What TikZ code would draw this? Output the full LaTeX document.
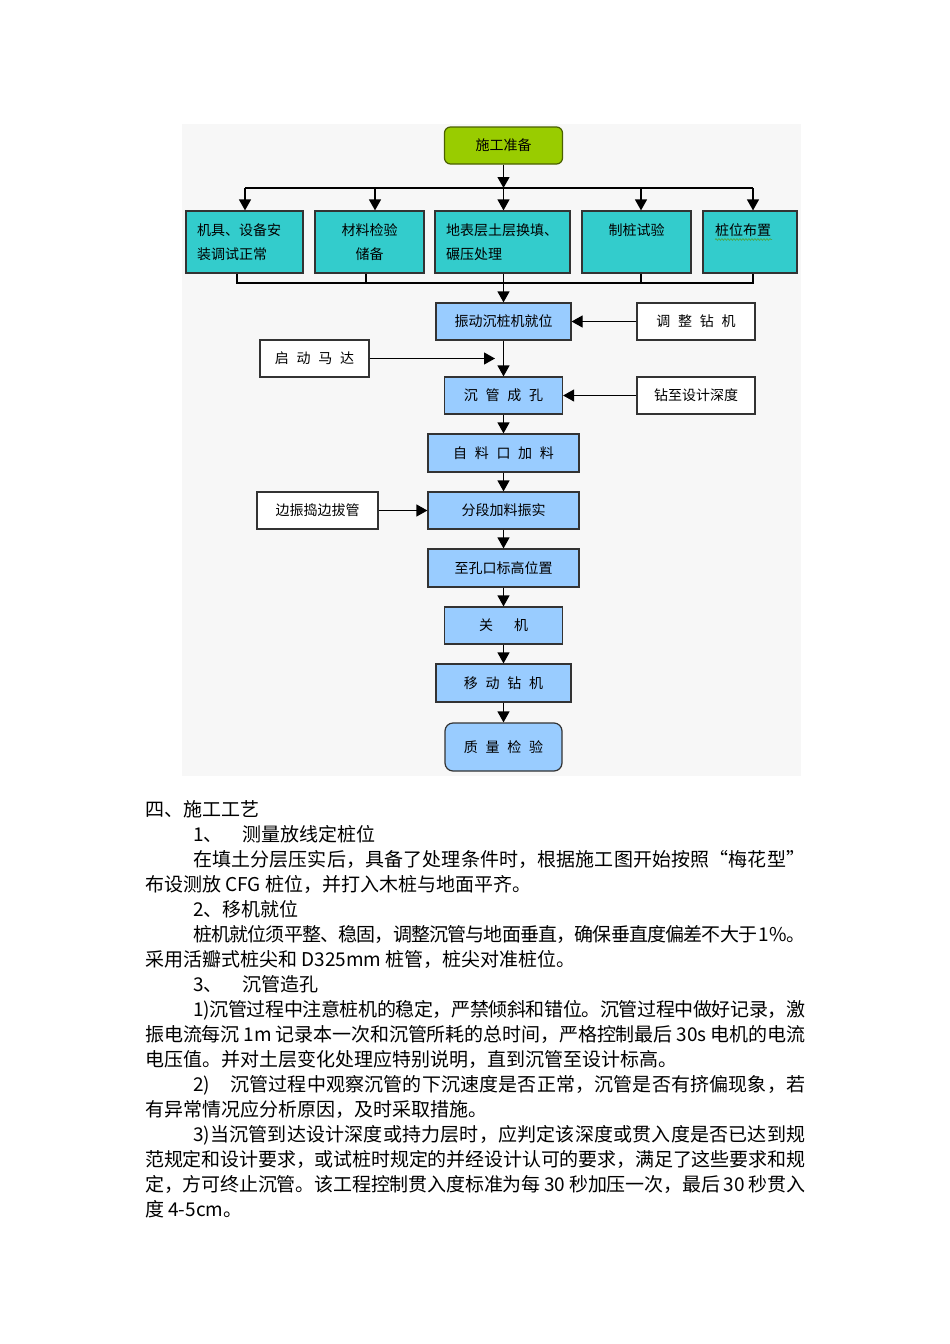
\documentclass[tikz,border=0pt]{standalone}
\usepackage{fontspec}
\setmainfont{Noto Sans CJK SC}
\usetikzlibrary{arrows.meta,decorations.pathmorphing}
\definecolor{bgc}{HTML}{F7F7F7}
\definecolor{tealfill}{HTML}{33CCCC}
\definecolor{bluefill}{HTML}{99CCFF}
\definecolor{greenfill}{HTML}{99CC00}
\definecolor{greenedge}{HTML}{4A6000}
\definecolor{edgec}{HTML}{333333}
\definecolor{wavyc}{HTML}{4CA64C}
\makeatletter
\def\jl@end{\relax jlend}
\def\jl@a#1{#1\jl@b}
\def\jl@b#1{\ifx\jl@end#1\else\hskip0pt plus1fil minus1.5pt #1\expandafter\jl@b\fi}
\newcommand\jline[2]{\makebox[#1][s]{\jl@a#2\jl@end}}
\makeatother
\newcommand\xgap{\hspace{0.55em}}
\tikzset{
  box/.style={draw=edgec, line width=1.2pt, inner sep=0pt, font=\fontsize{14}{24}\selectfont},
  tbox/.style={box, fill=tealfill, minimum height=62pt},
  bbox/.style={box, fill=bluefill},
  wbox/.style={box, fill=white},
  arr/.style={-{Triangle[width=12pt,length=11pt]}, line width=1.2pt, draw=black},
  ln/.style={line width=1.2pt, draw=black},
  body/.style={anchor=base west, inner sep=0pt, font=\fontsize{19}{25}\selectfont}
}
\begin{document}
\begin{tikzpicture}[x=1pt,y=-1pt]
\useasboundingbox (0,0) rectangle (950,1344);
\fill[white] (0,0) rectangle (950,1344);
\fill[bgc] (182,124) rectangle (801,776);

% start
\node[box, fill=greenfill, draw=greenedge, rounded corners=6pt, minimum width=118pt, minimum height=37pt] (start) at (503.5,145.5) {施工准备};

% top row
\node[tbox, minimum width=117pt, text width=95pt, align=left] (b1) at (244.5,242) {机具、设备安\\装调试正常};
\node[tbox, minimum width=109pt, align=center] (b2) at (369.5,242) {材料检验\\储备};
\node[tbox, minimum width=135pt, text width=113pt, align=left] (b3) at (502.5,242) {地表层土层换填、\\碾压处理};
\node[tbox, minimum width=109pt, align=center] (b4) at (636.5,242) {制桩试验\\\phantom{制}};
\node[tbox, minimum width=94pt, text width=70pt, align=left] (b5) at (750,242) {桩位布置\\\phantom{制}};

% top bus
\coordinate (s0) at (503.5,188);
\coordinate (t1) at (245,188);
\coordinate (t2) at (375,188);
\coordinate (t4) at (641,188);
\coordinate (t5) at (753,188);
\draw[arr] (start) -- (s0);
\draw[ln] (t1) -- (t5);
\draw[arr] (t1) -- (t1 |- b1.north);
\draw[arr] (t2) -- (t2 |- b2.north);
\draw[arr] (s0) -- (s0 |- b3.north);
\draw[arr] (t4) -- (t4 |- b4.north);
\draw[arr] (t5) -- (t5 |- b5.north);

% wavy underline
\coordinate (w1) at (715,239.5);
\coordinate (w2) at (772,239.5);
\draw[wavyc, line width=0.7pt, decorate, decoration={snake, amplitude=0.9pt, segment length=3pt}] (w1) -- (w2);

% bottom bus
\coordinate (u1) at (237,283);
\coordinate (u2) at (366,283);
\coordinate (u3) at (503.5,283);
\coordinate (u4) at (641,283);
\coordinate (u5) at (753,283);
\draw[ln] (u1 |- b1.south) -- (u1) -- (u5) -- (u5 |- b5.south);
\draw[ln] (u2 |- b2.south) -- (u2);
\draw[ln] (u4 |- b4.south) -- (u4);
\draw[ln] (u3 |- b3.south) -- (u3);

% main column
\node[bbox, minimum width=135pt, minimum height=37pt] (zd) at (503.5,321.5) {振动沉桩机就位};
\node[wbox, minimum width=118pt, minimum height=37pt] (tz) at (696,321.5) {调\xgap 整\xgap 钻\xgap 机};
\node[wbox, minimum width=109pt, minimum height=37pt] (qd) at (314.5,358.5) {启\xgap 动\xgap 马\xgap 达};
\coordinate (m) at (495,358.5);
\node[bbox, minimum width=118pt, minimum height=37pt] (cg) at (503.5,395.5) {沉\xgap 管\xgap 成\xgap 孔};
\node[wbox, minimum width=118pt, minimum height=37pt] (zz) at (696,395.5) {钻至设计深度};
\node[bbox, minimum width=151pt, minimum height=38pt] (zl) at (503.5,453) {自\xgap 料\xgap 口\xgap 加\xgap 料};
\node[bbox, minimum width=151pt, minimum height=37pt] (fd) at (503.5,510.5) {分段加料振实};
\node[wbox, minimum width=121pt, minimum height=37pt] (bz) at (317.5,510.5) {边振捣边拔管};
\node[bbox, minimum width=151pt, minimum height=38pt] (zk) at (503.5,568) {至孔口标高位置};
\node[bbox, minimum width=118pt, minimum height=37pt] (gj) at (503.5,625.5) {关\hspace{1.5em}机};
\node[bbox, minimum width=135pt, minimum height=38pt] (yd) at (503.5,683) {移\xgap 动\xgap 钻\xgap 机};
\node[bbox, rounded corners=8pt, minimum width=117pt, minimum height=48pt] (zj) at (503.5,747) {质\xgap 量\xgap 检\xgap 验};

\draw[arr] (u3) -- (u3 |- zd.north);
\draw[arr] (tz) -- (zd);
\draw[arr] (qd) -- (m);
\draw[arr] (zd) -- (zd |- cg.north);
\draw[arr] (zz) -- (cg);
\draw[arr] (cg) -- (cg |- zl.north);
\draw[arr] (bz) -- (fd);
\draw[arr] (zl) -- (zl |- fd.north);
\draw[arr] (fd) -- (fd |- zk.north);
\draw[arr] (zk) -- (zk |- gj.north);
\draw[arr] (gj) -- (gj |- yd.north);
\draw[arr] (yd) -- (yd |- zj.north);

% body text
\node[body] (p0) at (145,816) {四、施工工艺};
\node[body] (p1a) at (193,841) {1、};
\node[body] (p1b) at (242,841) {测量放线定桩位};
\node[body] (p2) at (193,866) {\jline{612pt}{在填土分层压实后，具备了处理条件时，根据施工图开始按照“梅花型”}};
\node[body] (p3) at (145,891) {布设测放 CFG 桩位，并打入木桩与地面平齐。};
\node[body] (p4) at (193,916) {2、移机就位};
\node[body] (p5) at (193,941) {\jline{612pt}{桩机就位须平整、稳固，调整沉管与地面垂直，确保垂直度偏差不大于~{1\%}。}};
\node[body] (p6) at (145,966) {采用活瓣式桩尖和 D325mm 桩管，桩尖对准桩位。};
\node[body] (p7a) at (193,991) {3、};
\node[body] (p7b) at (242,991) {沉管造孔};
\node[body] (p8) at (193,1016) {\jline{612pt}{{1)}沉管过程中注意桩机的稳定，严禁倾斜和错位。沉管过程中做好记录，激}};
\node[body] (p9) at (145,1041) {\jline{660pt}{振电流每沉~{1m}~记录本一次和沉管所耗的总时间，严格控制最后~{30s}~电机的电流}};
\node[body] (p10) at (145,1066) {电压值。并对土层变化处理应特别说明，直到沉管至设计标高。};
\node[body] (p11) at (193,1091) {\jline{612pt}{{2)}{\hspace{20pt}}沉管过程中观察沉管的下沉速度是否正常，沉管是否有挤偏现象，若}};
\node[body] (p12) at (145,1116) {有异常情况应分析原因，及时采取措施。};
\node[body] (p13) at (193,1141) {\jline{612pt}{{3)}当沉管到达设计深度或持力层时，应判定该深度或贯入度是否已达到规}};
\node[body] (p14) at (145,1166) {\jline{660pt}{范规定和设计要求，或试桩时规定的并经设计认可的要求，满足了这些要求和规}};
\node[body] (p15) at (145,1191) {\jline{660pt}{定，方可终止沉管。该工程控制贯入度标准为每~{30}~秒加压一次，最后~{30}~秒贯入}};
\node[body] (p16) at (145,1216) {度 4-5cm。};
\end{tikzpicture}
\end{document}
